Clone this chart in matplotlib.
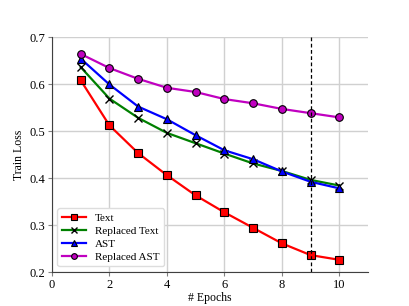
import numpy as np
import matplotlib
matplotlib.use("Agg")
import matplotlib.pyplot as plt

plt.rcParams['font.family'] = ['Liberation Serif', 'DejaVu Serif']

epochs = [1, 2, 3, 4, 5, 6, 7, 8, 9, 10]
text = [0.608, 0.512, 0.453, 0.406, 0.363, 0.327, 0.294, 0.261, 0.236, 0.226]
replaced_text = [0.636, 0.569, 0.528, 0.496, 0.474, 0.452, 0.431, 0.415, 0.396, 0.384]
ast = [0.654, 0.599, 0.552, 0.525, 0.491, 0.459, 0.440, 0.414, 0.392, 0.378]
replaced_ast = [0.664, 0.634, 0.611, 0.592, 0.583, 0.568, 0.559, 0.547, 0.538, 0.529]

fig = plt.figure(figsize=(4.09, 3.06), dpi=100)
ax = fig.add_axes([0.127, 0.111, 0.773, 0.768])

ax.plot(epochs, text, '-s', color='red', mfc='red', mec='black', mew=0.8, ms=5.5, lw=1.6, label='Text')
ax.plot(epochs, replaced_text, '-x', color='green', mec='black', mew=1.0, ms=5.5, lw=1.6, label='Replaced Text')
ax.plot(epochs, ast, '-^', color='blue', mfc='blue', mec='black', mew=0.8, ms=5.5, lw=1.6, label='AST')
ax.plot(epochs, replaced_ast, '-o', color='#c000c0', mfc='#c000c0', mec='black', mew=0.8, ms=5.5, lw=1.6, label='Replaced AST')
ax.axvline(9, color='black', ls='--', lw=0.9, dashes=(3, 2))

ax.set_xlim(0, 11)
ax.set_ylim(0.2, 0.7)
ax.set_xticks([0, 2, 4, 6, 8, 10])
ax.set_yticks([0.2, 0.3, 0.4, 0.5, 0.6, 0.7])
ax.grid(True, color='#d0d0d0', lw=1.0)
ax.set_axisbelow(True)
for s in ['top', 'right']:
    ax.spines[s].set_visible(False)
for s in ['left', 'bottom']:
    ax.spines[s].set_color('#404040')
ax.tick_params(length=3, width=0.8, color='#808080', labelsize=9, pad=2)
ax.set_xlabel('# Epochs', fontsize=8.5, labelpad=1)
ax.set_ylabel('Train Loss', fontsize=8.5, labelpad=3)
ax.legend(loc='lower left', fontsize=8, frameon=True, framealpha=1, edgecolor='#dddddd',
          handlelength=2.2, borderpad=0.4, labelspacing=0.3, markerscale=0.75)

fig.savefig('out.png', dpi=100)
